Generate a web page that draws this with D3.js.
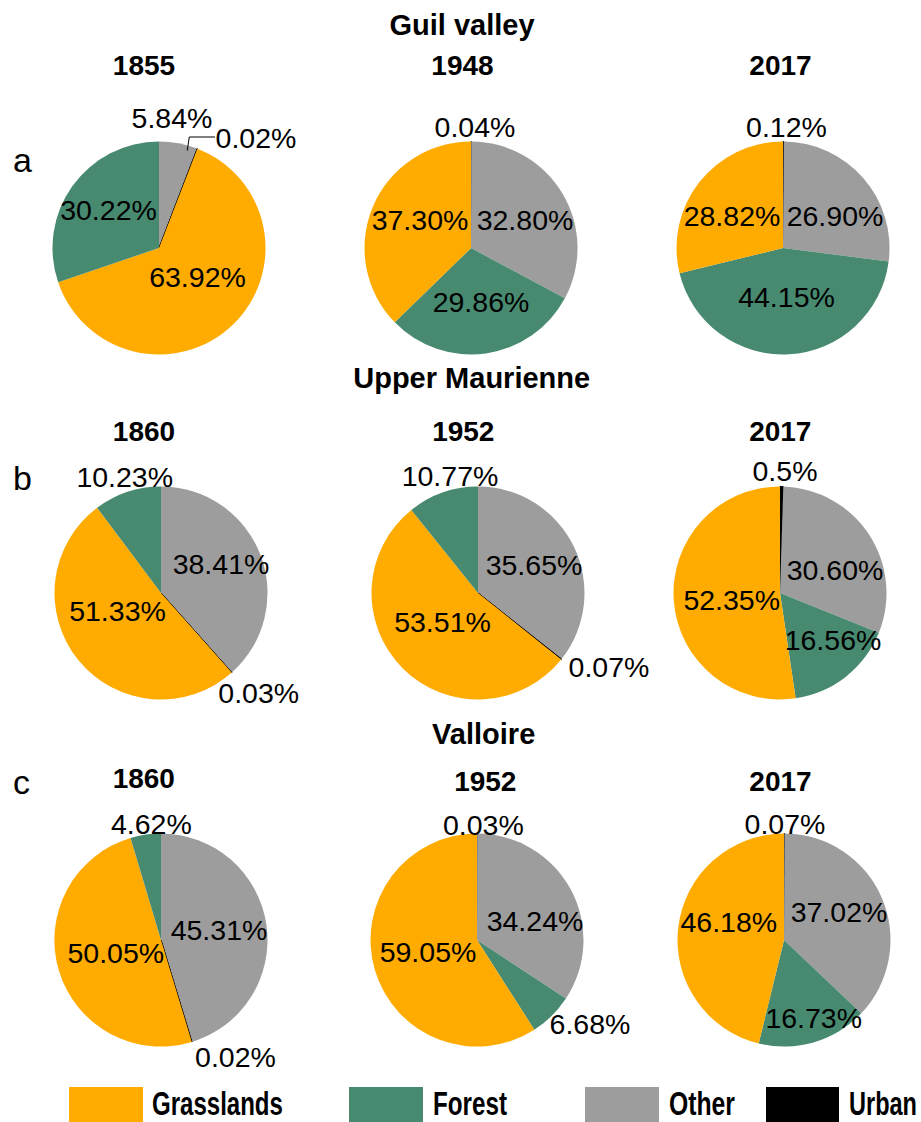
<!DOCTYPE html>
<html>
<head>
<meta charset="utf-8">
<script src="https://cdn.jsdelivr.net/npm/d3@7"></script>
<style>
  html, body { margin: 0; padding: 0; background: #fff; }
  svg { display: block; font-family: "Liberation Sans", Arial, sans-serif; }
</style>
</head>
<body>
<svg id="chart" width="921" height="1122"></svg>
<script>
// ---------- data ----------
const categories = ["Grasslands", "Forest", "Other", "Urban"];
const regions = ["Guil valley", "Upper Maurienne", "Valloire"];
const panelLetters = ["a", "b", "c"];
const years = ["1855", "1948", "2017", "1860", "1952", "2017", "1860", "1952", "2017"];
const grasslands = [63.92, 37.30, 28.82, 51.33, 53.51, 52.35, 50.05, 59.05, 46.18];
const forest     = [30.22, 29.86, 44.15, 10.23, 10.77, 16.56, 4.62, 6.68, 16.73];
const other      = [5.84, 32.80, 26.90, 38.41, 35.65, 30.60, 45.31, 34.24, 37.02];
const urban      = [0.02, 0.04, 0.12, 0.03, 0.07, 0.5, 0.02, 0.03, 0.07];
const urbanText  = ["0.02%", "0.04%", "0.12%", "0.03%", "0.07%", "0.5%", "0.02%", "0.03%", "0.07%"];
// slice order, clockwise from 12 o'clock
const orderA = ["Other", "Urban", "Grasslands", "Forest"];
const orderB = ["Urban", "Other", "Forest", "Grasslands"];
const sliceOrder = [orderA, orderB, orderB, orderA, orderA, orderB, orderA, orderB, orderB];

// ---------- style / layout ----------
const colors = { Grasslands: "#FFAB00", Forest: "#478A70", Other: "#9D9D9D", Urban: "#000000" };
const R = 106.5;
const centers = [[159, 248], [471, 248], [783, 248], [161, 593], [478, 593], [780, 593], [161, 940], [477, 940], [784, 940]];
const yearPos = [[144, 75], [462.5, 75], [780.5, 75], [144, 441], [463.3, 441], [780.3, 441], [143.8, 788.3], [485.3, 791], [780.5, 791]];
const regionPos = [[462, 35], [471.7, 388.3], [483.7, 744]];
const letterPos = [[13, 172], [13, 490], [13, 794]];
// label offsets (centre x, baseline y) relative to pie centre: Grasslands, Forest, Other, Urban
const labelOffsets = [
  [[38.5, 39], [-50.5, -28], [13, -120], [97, -100]],
  [[-51, -18], [10, 64], [54, -18], [4, -111]],
  [[-51, -22], [3.5, 59], [52, -22], [3.5, -111]],
  [[-43.5, 27.7], [-36.3, -106.3], [60, -18.7], [97.7, 110.3]],
  [[-35.5, 38.7], [-28, -107], [56, -18], [131, 83.7]],
  [[-48.3, 17], [53, 57], [55, -13], [5, -112.3]],
  [[-45.2, 23.3], [-9.7, -105.7], [58, 0], [74.5, 127]],
  [[-49, 21.7], [113, 94], [58, -9.3], [6.3, -105]],
  [[-55.2, -8.3], [29.7, 88.3], [55, -18.3], [1, -105.7]]
];
const legendRects = [[69, 74], [349, 74], [585, 74], [766, 73]];
const legendText = [[152, 131], [433, 74], [669, 66], [849, 68]];

const svg = d3.select("#chart");
const pie = d3.pie().sort(null).value(d => d.value);
const arc = d3.arc().innerRadius(0).outerRadius(R);
const fmt = d3.format(".2f");

// region titles & panel letters
svg.selectAll("text.region").data(regions).join("text")
  .attr("class", "region")
  .attr("x", (d, i) => regionPos[i][0]).attr("y", (d, i) => regionPos[i][1])
  .attr("text-anchor", "middle").attr("font-size", 29).attr("font-weight", "bold")
  .text(d => d);
svg.selectAll("text.letter").data(panelLetters).join("text")
  .attr("class", "letter")
  .attr("x", (d, i) => letterPos[i][0]).attr("y", (d, i) => letterPos[i][1])
  .attr("font-size", 34).text(d => d);

years.forEach((yr, i) => {
  const vals = { Grasslands: grasslands[i], Forest: forest[i], Other: other[i], Urban: urban[i] };
  const texts = {
    Grasslands: fmt(grasslands[i]) + "%", Forest: fmt(forest[i]) + "%",
    Other: fmt(other[i]) + "%", Urban: urbanText[i]
  };
  const data = sliceOrder[i].map(c => ({ cat: c, value: vals[c] }));
  const arcs = pie(data);
  const g = svg.append("g").attr("transform", `translate(${centers[i][0]},${centers[i][1]})`);

  g.selectAll("path").data(arcs).join("path")
    .attr("d", arc)
    .attr("fill", d => colors[d.data.cat])
    .attr("stroke", d => d.data.cat === "Urban" ? "#000" : "none")
    .attr("stroke-width", d => d.data.cat === "Urban" ? 1 : 0);

  // leader line for the first pie's urban label
  if (i === 0) {
    const u = arcs.find(a => a.data.cat === "Urban");
    const ang = (u.startAngle + u.endAngle) / 2;
    const ex = R * Math.sin(ang), ey = -R * Math.cos(ang);
    const off = labelOffsets[i][3];
    const ly = off[1] - 11;
    g.append("polyline")
      .attr("points", [[ex - 10, ey + 2], [ex - 8, ly], [off[0] - 41, ly]].map(p => p.join(",")).join(" "))
      .attr("fill", "none").attr("stroke", "#000").attr("stroke-width", 1);
  }

  g.selectAll("text.lbl").data(categories).join("text")
    .attr("class", "lbl")
    .attr("x", (c, k) => labelOffsets[i][k][0])
    .attr("y", (c, k) => labelOffsets[i][k][1])
    .attr("text-anchor", "middle").attr("font-size", 28.5).attr("fill", "#000")
    .text(c => texts[c]);

  svg.append("text")
    .attr("x", yearPos[i][0]).attr("y", yearPos[i][1])
    .attr("text-anchor", "middle").attr("font-size", 28).attr("font-weight", "bold")
    .text(yr);
});

// legend
const lg = svg.append("g");
lg.selectAll("rect").data(categories).join("rect")
  .attr("x", (c, k) => legendRects[k][0]).attr("width", (c, k) => legendRects[k][1])
  .attr("y", 1087).attr("height", 36)
  .attr("fill", c => colors[c]);
lg.selectAll("text").data(categories).join("text")
  .attr("font-size", 33.5).attr("font-weight", "bold")
  .text(c => c)
  .each(function (c, k) {
    const w = this.getComputedTextLength();
    const sx = legendText[k][1] / w;
    d3.select(this).attr("transform", `translate(${legendText[k][0]},1115) scale(${sx},1)`);
  });
</script>
</body>
</html>
